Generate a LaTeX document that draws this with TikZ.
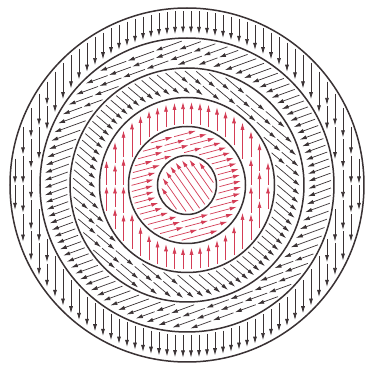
\documentclass[tikz,border=0pt]{standalone}
\usetikzlibrary{arrows.meta}
\definecolor{ink}{HTML}{3A3234}
\definecolor{redink}{HTML}{D43C55}
\tikzset{
  blk/.style={draw=ink, line width=0.7pt, -{Latex[length=7pt,width=4pt]}},
  rd/.style={draw=redink, line width=0.7pt, -{Latex[length=7pt,width=4pt]}},
  ringline/.style={draw=ink, line width=1.5pt},
}
\def\fCx{187}
\def\fCy{180}
% #1 a, #2 b, #3 d, #4 theta, #5 L, #6 style
\newcommand\fieldseg[6]{%
  \pgfmathsetmacro\fLen{#2-(#1)}%
  \pgfmathtruncatemacro\fSegok{\fLen>9}%
  \ifnum\fSegok=1
    \pgfmathtruncatemacro\fNseg{max(1,round(\fLen/#5))}%
    \pgfmathsetmacro\fPiece{\fLen/\fNseg}%
    \foreach \k in {1,...,\fNseg}{%
      \pgfmathsetmacro\fTa{#1+(\k-1)*\fPiece}%
      \pgfmathsetmacro\fTb{#1+\k*\fPiece-1.5}%
      \draw[#6] ({\fCx+\fTa*cos(#4)-(#3)*sin(#4)},{\fCy+\fTa*sin(#4)+(#3)*cos(#4)})
        -- ({\fCx+\fTb*cos(#4)-(#3)*sin(#4)},{\fCy+\fTb*sin(#4)+(#3)*cos(#4)});
    }%
  \fi
}
% #1 rin #2 rout #3 theta #4 spacing #5 L #6 style #7 offset
\newcommand\ringfield[7]{%
  \pgfmathsetmacro\fRo{#2-3}%
  \pgfmathsetmacro\fRi{#1+3}%
  \pgfmathtruncatemacro\fNd{floor(\fRo/#4)+1}%
  \foreach \i in {-\fNd,...,\fNd}{%
    \pgfmathsetmacro\fD{\i*#4+#7}%
    \pgfmathtruncatemacro\fIn{abs(\fD)<\fRo-1}%
    \ifnum\fIn=1
      \pgfmathsetmacro\fHo{10*sqrt((\fRo/10)^2-(\fD/10)^2)}%
      \pgfmathtruncatemacro\fHole{abs(\fD)<\fRi}%
      \ifnum\fHole=1
        \pgfmathsetmacro\fHi{10*sqrt((\fRi/10)^2-(\fD/10)^2)}%
        \fieldseg{-\fHo}{-\fHi}{\fD}{#3}{#5}{#6}%
        \fieldseg{\fHi}{\fHo}{\fD}{#3}{#5}{#6}%
      \else
        \fieldseg{-\fHo}{\fHo}{\fD}{#3}{#5}{#6}%
      \fi
    \fi
  }%
}
\begin{document}
\begin{tikzpicture}[x=1pt,y=1pt]
\useasboundingbox (0,0) rectangle (368,365);
\fill[white] (0,0) rectangle (368,365);
\ringfield{-10}{29.5}{125}{6.5}{100}{rd}{3}
\ringfield{29.5}{58.5}{15}{6}{26}{rd}{2}
\ringfield{58.5}{87.5}{90}{8.5}{25}{rd}{4}
\ringfield{87.5}{117}{-40}{7}{25}{blk}{2}
\ringfield{117}{147}{200}{7}{26}{blk}{3}
\ringfield{147}{177}{270}{8}{30}{blk}{4}
\foreach \r/\nm in {29.5/c1,58.5/c2,87.5/c3,117/c4,147/c5,177/c6}
  \node[ringline, circle, minimum size=2*\r pt, inner sep=0pt] (\nm) at (\fCx,\fCy) {};
\end{tikzpicture}
\end{document}
